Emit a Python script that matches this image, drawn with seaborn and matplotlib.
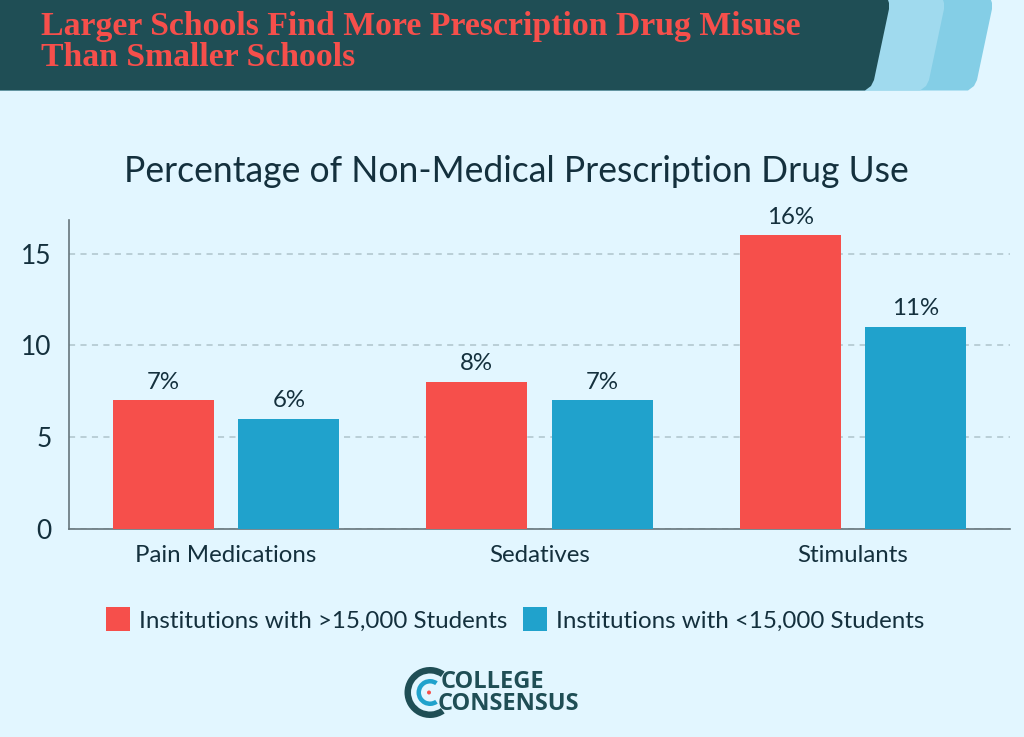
import matplotlib
matplotlib.use("Agg")
import matplotlib.pyplot as plt
from matplotlib.patches import Polygon, Wedge, Circle
import seaborn as sns
import pandas as pd

categories = ["Pain Medications", "Sedatives", "Stimulants"]
large_schools = [7, 8, 16]
small_schools = [6, 7, 11]
series_names = ["Institutions with >15,000 Students", "Institutions with <15,000 Students"]
y_ticks = [0, 5, 10, 15]
chart_title = "Percentage of Non-Medical Prescription Drug Use"
header_line_1 = "Larger Schools Find More Prescription Drug Misuse"
header_line_2 = "Than Smaller Schools"

BG = "#E2F6FF"; RED = "#F64F4B"; BLUE = "#20A2CC"; DARK = "#1F4E55"; INK = "#14303D"

sns.set_theme(style="white")
plt.rcParams["font.family"] = ["Lato", "DejaVu Sans"]

W, H = 1024, 737
fig = plt.figure(figsize=(W/100, H/100), dpi=100, facecolor=BG)
fx = lambda x: x/W
fy = lambda y: 1-y/H

# header
def band(x_top, color, z):
    pts = [(0, 0), (x_top, 0), (x_top+1, 3), (x_top+1, 9), (x_top-14, 80), (x_top-17, 86), (x_top-23, 90.5), (0, 90.5)]
    fig.add_artist(Polygon([(fx(a), fy(b)) for a, b in pts], closed=True, transform=fig.transFigure,
                           fc=color, ec="none", zorder=z))
band(991, "#84CEE6", 1)
band(943, "#A0DAEE", 2)
band(888, DARK, 3)
for txt, yy in [(header_line_1, 27), (header_line_2, 58)]:
    fig.text(fx(41), fy(yy), txt, color=RED, fontsize=24.3, fontweight="bold",
             family="Liberation Serif", va="center", ha="left", zorder=5)

# chart
ax = fig.add_axes([fx(68.5), fy(529), (1009.5-68.5)/W, (529-220)/H], facecolor="none")
df = pd.DataFrame({
    "category": categories*2,
    "value": large_schools+small_schools,
    "series": [series_names[0]]*3+[series_names[1]]*3,
})
sns.barplot(df, x="category", y="value", hue="series", order=categories, hue_order=series_names,
            palette=[RED, BLUE], width=0.8, gap=0.195, saturation=1, legend=False, ax=ax, zorder=3,
            linewidth=0)
ax.set_xlim(-0.503, 2.5)
ax.set_ylim(0, 16.83)
ax.set_yticks(y_ticks)
ax.set_xlabel(""); ax.set_ylabel("")
ax.yaxis.grid(True, color="#AFC4CB", ls=(0, (4, 3.5)), lw=1.1, zorder=0)
ax.set_axisbelow(True)
ax.tick_params(axis="y", length=0, labelsize=19, labelcolor=INK, pad=12)
ax.tick_params(axis="x", length=0, labelsize=17.3, labelcolor=INK, pad=11.5)
for s in ["top", "right"]:
    ax.spines[s].set_visible(False)
for s in ["left", "bottom"]:
    ax.spines[s].set_color("#66757B"); ax.spines[s].set_linewidth(1.2)
for cont in ax.containers:
    ax.bar_label(cont, fmt="%g%%", padding=5.5, fontsize=17.3, color=INK)

fig.text(fx(516), fy(171.5), chart_title, ha="center", va="center", fontsize=25.6, color=INK)

# legend
for x0, c, name, tx in [(106, RED, series_names[0], 139), (523, BLUE, series_names[1], 556)]:
    fig.add_artist(Polygon([(fx(x0), fy(607)), (fx(x0+24), fy(607)), (fx(x0+24), fy(631)), (fx(x0), fy(631))],
                           closed=True, transform=fig.transFigure, fc=c, ec="none"))
    fig.text(fx(tx), fy(621), name, va="center", ha="left", fontsize=17.4, color=INK)

# logo
logo = fig.add_axes([0, 0, 1, 1], facecolor="none")
logo.set_xlim(0, W); logo.set_ylim(H, 0); logo.axis("off")
logo.add_patch(Wedge((430, 692.5), 25.5, 55, 305, width=6.5, fc=DARK, ec="none"))
logo.add_patch(Wedge((430, 692.5), 13.5, 55, 305, width=4.5, fc=BLUE, ec="none"))
logo.add_patch(Circle((429, 692.5), 2, fc=RED, ec="none"))
logo.text(441, 681.5, "COLLEGE", fontsize=17, fontweight="bold", color=DARK, family="Open Sans", va="center", ha="left")
logo.text(438, 704.5, "CONSENSUS", fontsize=17, fontweight="bold", color=DARK, family="Open Sans", va="center", ha="left")

fig.savefig("out.png", dpi=100, facecolor=BG)
